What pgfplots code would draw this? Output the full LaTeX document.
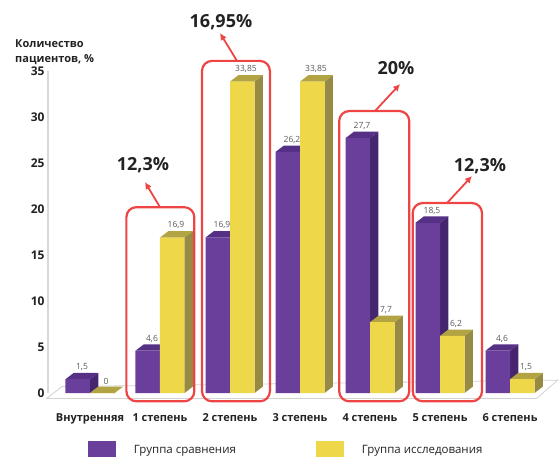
\documentclass[border=0pt]{standalone}
\usepackage{fontspec}
\setmainfont{Open Sans}
\usepackage{pgfplots}
\pgfplotsset{compat=1.18}
\usepackage{pgfplotstable}
\usetikzlibrary{arrows.meta}
\definecolor{purp}{HTML}{6A3F9C}
\definecolor{purpside}{HTML}{45266E}
\definecolor{purptop}{HTML}{553085}
\definecolor{yel}{HTML}{EED84A}
\definecolor{yelside}{HTML}{968A45}
\definecolor{yeltop}{HTML}{B3A443}
\definecolor{redbox}{HTML}{EE4444}
\definecolor{txt}{HTML}{222222}

\pgfplotstableread{
x a b
0 1.5 0
1 4.6 16.9
2 16.9 33.85
3 26.2 33.85
4 27.7 7.7
5 18.5 6.2
6 4.6 1.5
}\datatable

% 3D side and top faces of a bar: #1 left x of front face, #2 value, #3 side colour, #4 top colour
\newcommand\barfaces[4]{%
  \pgfmathsetmacro\xa{#1+0.35}%
  \pgfmathsetmacro\xb{#1+0.47}%
  \pgfmathsetmacro\xc{#1+0.12}%
  \pgfmathsetmacro\yt{#2+0.7}%
  \edef\tmp{%
    \noexpand\addplot[forget plot, fill=#3, draw=none] coordinates {(\xa,0) (\xb,0.7) (\xb,\yt) (\xa,#2)} -- cycle;
    \noexpand\addplot[forget plot, fill=#4, draw=none] coordinates {(#1,#2) (\xc,\yt) (\xb,\yt) (\xa,#2)} -- cycle;
  }\tmp
}

\begin{document}
\begin{tikzpicture}
\begin{axis}[
  scale only axis, width=511pt, height=322pt,
  xmin=-0.6, xmax=6.7, ymin=0, ymax=35,
  clip=false,
  axis lines*=left,
  x axis line style={draw=none},
  y axis line style={draw=gray!30, line width=2pt},
  major tick length=0pt,
  ytick={0,5,...,35},
  xtick={0,...,6},
  xticklabels={Внутренняя,1 степень,2 степень,3 степень,4 степень,5 степень,6 степень},
  /pgf/number format/assume math mode=true,
  yticklabel style={font=\bfseries\fontsize{12}{12}\selectfont, text=txt},
  xticklabel style={font=\bfseries\fontsize{11}{12}\selectfont, text=txt, yshift=-17pt},
  legend columns=2,
  legend style={at={(0.072,-0.174)}, anchor=west, draw=none, fill=none,
    font=\fontsize{11.5}{13}\selectfont, text=txt,
    /tikz/every even column/.append style={column sep=78pt}},
  legend cell align=left,
  barlabels/.style={nodes near coords,
    every node near coord/.append style={font=\fontsize{8.5}{9}\selectfont, text=gray!70!black, yshift=5pt, xshift=#1},
    /pgf/number format/use comma},
]
% floor
\addplot[forget plot, draw=gray!35, fill=white, line width=0.8pt] coordinates {(-0.62,-0.6) (6.38,-0.6) (6.68,1.4) (-0.4,0.7)} -- cycle;

% purple 3D faces
\barfaces{-0.35}{1.5}{purpside}{purptop}
\barfaces{0.65}{4.6}{purpside}{purptop}
\barfaces{1.65}{16.9}{purpside}{purptop}
\barfaces{2.65}{26.2}{purpside}{purptop}
\barfaces{3.65}{27.7}{purpside}{purptop}
\barfaces{4.65}{18.5}{purpside}{purptop}
\barfaces{5.65}{4.6}{purpside}{purptop}

\addplot[ybar, bar width=0.35, bar shift=-0.175, fill=purp, draw=none, barlabels=-8pt,
  legend image code/.code={\fill[purp] (0pt,-7pt) rectangle (28pt,9pt);}]
  table[x=x, y=a] {\datatable};
\addlegendentry{\hspace*{16pt}Группа сравнения}

% yellow 3D faces
\barfaces{0}{0}{yelside}{yeltop}
\barfaces{1}{16.9}{yelside}{yeltop}
\barfaces{2}{33.85}{yelside}{yeltop}
\barfaces{3}{33.85}{yelside}{yeltop}
\barfaces{4}{7.7}{yelside}{yeltop}
\barfaces{5}{6.2}{yelside}{yeltop}
\barfaces{6}{1.5}{yelside}{yeltop}

\addplot[ybar, bar width=0.35, bar shift=0.175, fill=yel, draw=none, barlabels=16pt,
  legend image code/.code={\fill[yel] (0pt,-7pt) rectangle (28pt,9pt);}]
  table[x=x, y=b] {\datatable};
\addlegendentry{\hspace*{16pt}Группа исследования}

% highlight boxes
\draw[redbox, line width=2.2pt, rounded corners=10pt] (axis cs:0.52,-0.9) rectangle (axis cs:1.49,20.2);
\draw[redbox, line width=2.2pt, rounded corners=10pt] (axis cs:1.6,-0.9) rectangle (axis cs:2.57,36.1);
\draw[redbox, line width=2.2pt, rounded corners=10pt] (axis cs:3.56,-0.9) rectangle (axis cs:4.56,30.65);
\draw[redbox, line width=2.2pt, rounded corners=10pt] (axis cs:4.61,-0.9) rectangle (axis cs:5.6,20.65);
% arrows
\draw[redbox, line width=1.8pt, -{Latex[length=7pt,width=7pt]}] (axis cs:1.0,20.2) -- (axis cs:0.786,22.93);
\draw[redbox, line width=1.8pt, -{Latex[length=7pt,width=7pt]}] (axis cs:2.1,36.1) -- (axis cs:1.857,39.13);
\draw[redbox, line width=1.8pt, -{Latex[length=7pt,width=7pt]}] (axis cs:4.071,30.65) -- (axis cs:4.43,33.59);
\draw[redbox, line width=1.8pt, -{Latex[length=7pt,width=7pt]}] (axis cs:5.1,20.65) -- (axis cs:5.457,23.59);
% percentages
\node[font=\bfseries\fontsize{18}{20}\selectfont, text=txt] at (axis cs:0.757,24.78) {12,3\%};
\node[font=\bfseries\fontsize{18}{20}\selectfont, text=txt] at (axis cs:1.871,40.33) {16,95\%};
\node[font=\bfseries\fontsize{18}{20}\selectfont, text=txt] at (axis cs:4.371,35.33) {20\%};
\node[font=\bfseries\fontsize{18}{20}\selectfont, text=txt] at (axis cs:5.571,24.67) {12,3\%};
% y axis title
\node[anchor=north west, align=left, font=\bfseries\fontsize{11}{15}\selectfont, text=txt, inner sep=0pt] at (axis cs:-1.071,38.4) {Количество\\пациентов, \%};

\coordinate (bl) at (axis cs:-1.2857,-7.17);
\coordinate (tr) at (axis cs:6.7,42.72);
\end{axis}
\pgfresetboundingbox
\path[use as bounding box] (bl) rectangle (tr);
\end{tikzpicture}
\end{document}
